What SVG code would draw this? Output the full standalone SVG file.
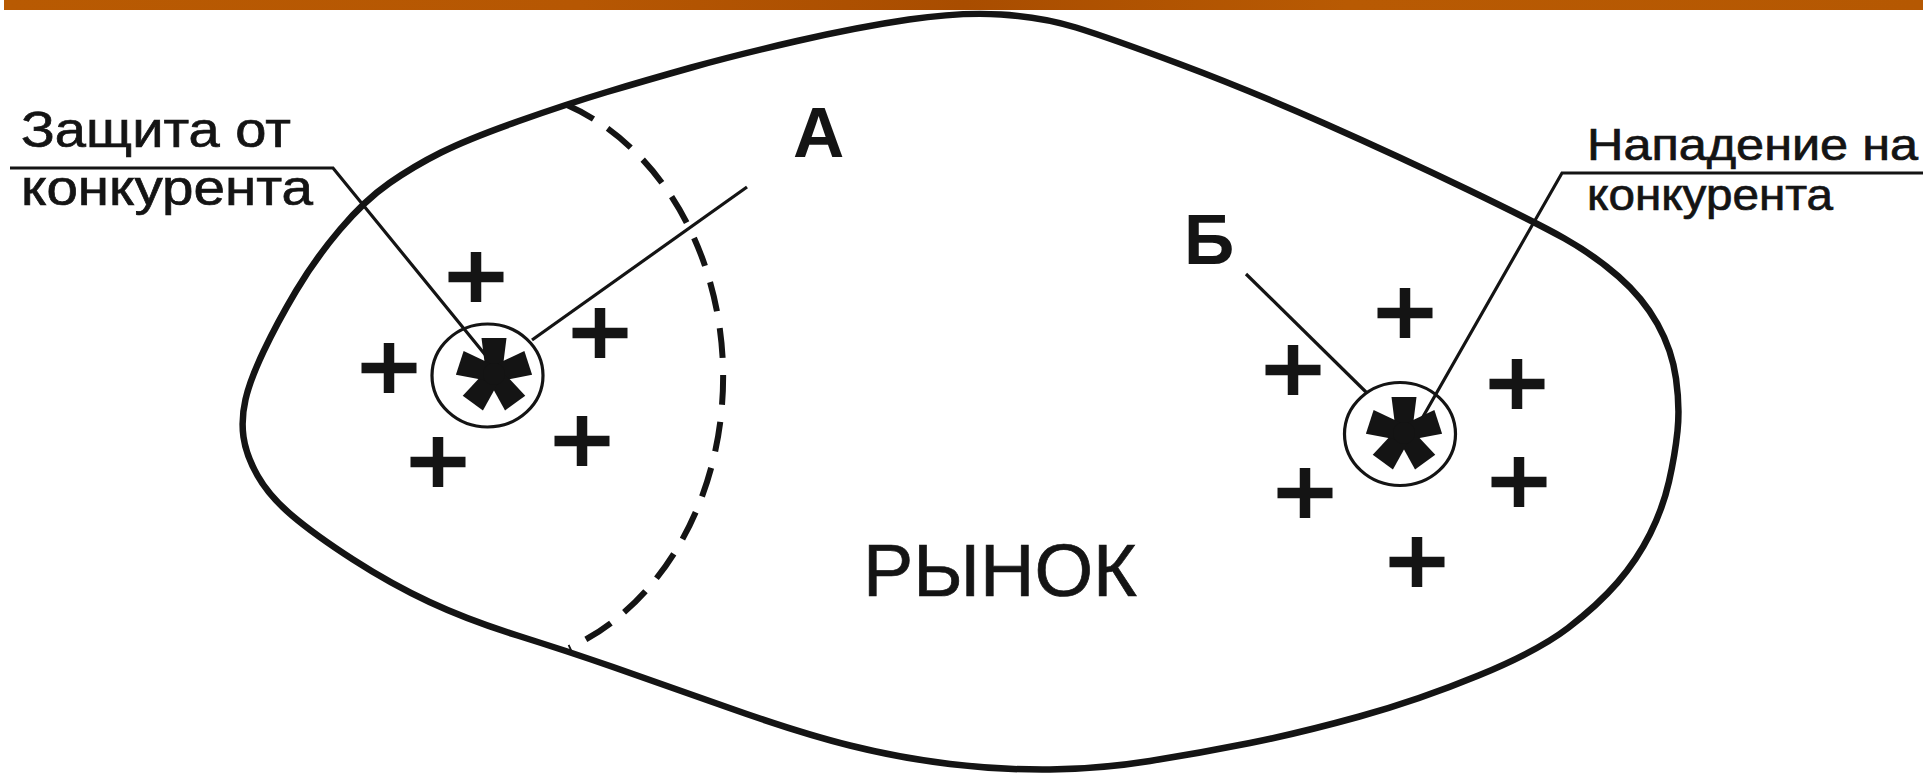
<svg xmlns="http://www.w3.org/2000/svg" xmlns:xlink="http://www.w3.org/1999/xlink" width="1923" height="781" viewBox="0 0 1923 781">
  <style>
    .outline { fill: none; stroke: #141414; stroke-width: 6.5; stroke-linejoin: round; }
    .zone { fill: none; stroke: #141414; stroke-width: 6; stroke-dasharray: 30 17; }
    .ring { fill: none; stroke: #141414; stroke-width: 3.2; }
    .leader { fill: none; stroke: #141414; stroke-width: 3.2; }
    .plus { fill: none; stroke: #141414; stroke-width: 10.5; }
    .ast { fill: #141414; }
    .lbl { font-family: "Liberation Sans", Arial, sans-serif; fill: #141414; stroke: #141414; stroke-width: 0.7; }
    .big { font-family: "Liberation Sans", Arial, sans-serif; font-weight: bold; fill: #141414; }
  </style>
  <defs>
    <linearGradient id="bar" x1="0" y1="0" x2="1" y2="0">
      <stop offset="0" stop-color="#b85a02"/>
      <stop offset="0.3" stop-color="#b65703"/>
      <stop offset="0.5" stop-color="#a94d00"/>
      <stop offset="0.7" stop-color="#b85a03"/>
      <stop offset="1" stop-color="#b55802"/>
    </linearGradient>
    <path id="plus" class="plus" d="M-27.5 0H27.5M0 -25V25"/>
    <g id="ast" class="ast">
      <polygon points="-8,0 8,0 12.5,-36 -12.5,-36"/>
      <polygon points="-8,0 8,0 12.5,-36 -12.5,-36" transform="rotate(72)"/>
      <polygon points="-8,0 8,0 12.5,-36 -12.5,-36" transform="rotate(144)"/>
      <polygon points="-8,0 8,0 12.5,-36 -12.5,-36" transform="rotate(216)"/>
      <polygon points="-8,0 8,0 12.5,-36 -12.5,-36" transform="rotate(288)"/>
      <circle r="11"/>
    </g>
  </defs>

  <rect x="0" y="0" width="1923" height="781" fill="#ffffff"/>
  <rect id="top-bar" x="4" y="0" width="1919" height="10" fill="url(#bar)"/>

  <g id="market">
    <path class="outline" d="M 243.5 437 Q 241 419 245.5 399.5 Q 250 380 263.5 351.5 Q 277 323 296 291 Q 315 259 340 229.5 Q 365 200 389.5 183 Q 414 166 441 152.5 Q 468 139 517.5 121.5 Q 567 104 607 92 Q 647 80 691.5 67.5 Q 736 55 797 41 Q 858 27 909 19.5 Q 960 12 1001 14.5 Q 1042 17 1076 27.5 Q 1110 38 1179.5 64 Q 1249 90 1324.5 123.5 Q 1400 157 1467.5 189.5 Q 1535 222 1564.5 238.5 Q 1594 255 1618.5 276.5 Q 1643 298 1657.5 324 Q 1672 350 1676 378.5 Q 1680 407 1677.5 431 Q 1675 455 1669 481.5 Q 1663 508 1650 534 Q 1637 560 1617.5 582.5 Q 1598 605 1568 628 Q 1538 651 1478.5 675.5 Q 1419 700 1359.5 716.5 Q 1300 733 1250 743 Q 1200 753 1150 761 Q 1100 769 1050 769.5 Q 1000 770 950 764 Q 900 758 850 745.5 Q 800 733 729.5 708 Q 659 683 613 667 Q 567 651 517.5 635.5 Q 468 620 429.5 602 Q 391 584 353 559.5 Q 315 535 292 515.5 Q 269 496 257.5 475.5 Q 246 455 243.5 437 Z"/>
    <text class="lbl" x="863" y="596" font-size="74" textLength="274" lengthAdjust="spacingAndGlyphs">РЫНОК</text>
  </g>

  <g id="zone-A">
    <path class="zone" d="M 567 105 A 236 289 0 0 1 569 648"/>
  </g>

  <g id="connectors">
    <polyline class="leader" points="10,168 333,168 487,357"/>
    <line class="leader" x1="532" y1="340" x2="747" y2="187"/>
    <line class="leader" x1="1246" y1="274" x2="1367" y2="393"/>
    <polyline class="leader" points="1923,173 1562,173 1420,422"/>
  </g>

  <g id="company-A">
    <ellipse class="ring" cx="487.5" cy="375.5" rx="55.5" ry="51.5"/>
    <use xlink:href="#ast" href="#ast" transform="translate(494 374)"/>
    <use xlink:href="#plus" href="#plus" transform="translate(476 277)"/>
    <use xlink:href="#plus" href="#plus" transform="translate(389 368)"/>
    <use xlink:href="#plus" href="#plus" transform="translate(600 333)"/>
    <use xlink:href="#plus" href="#plus" transform="translate(582 441)"/>
    <use xlink:href="#plus" href="#plus" transform="translate(438 462)"/>
  </g>

  <g id="company-B">
    <ellipse class="ring" cx="1400" cy="434" rx="55.5" ry="51.5"/>
    <use xlink:href="#ast" href="#ast" transform="translate(1404 433)"/>
    <use xlink:href="#plus" href="#plus" transform="translate(1405 313)"/>
    <use xlink:href="#plus" href="#plus" transform="translate(1293 370)"/>
    <use xlink:href="#plus" href="#plus" transform="translate(1305 493)"/>
    <use xlink:href="#plus" href="#plus" transform="translate(1517 384)"/>
    <use xlink:href="#plus" href="#plus" transform="translate(1519 482)"/>
    <use xlink:href="#plus" href="#plus" transform="translate(1417 562)"/>
  </g>

  <g id="label-A">
    <text class="big" x="793" y="157" font-size="71">А</text>
  </g>
  <g id="label-B">
    <text class="big" x="1184" y="264" font-size="70">Б</text>
  </g>
  <g id="label-defense">
    <text class="lbl" x="21" y="147" font-size="50" textLength="270" lengthAdjust="spacingAndGlyphs">Защита от</text>
    <text class="lbl" x="21" y="205" font-size="50" textLength="292" lengthAdjust="spacingAndGlyphs">конкурента</text>
  </g>
  <g id="label-attack">
    <text class="lbl" x="1587" y="160" font-size="44" textLength="331" lengthAdjust="spacingAndGlyphs">Нападение на</text>
    <text class="lbl" x="1587" y="210" font-size="44" textLength="246" lengthAdjust="spacingAndGlyphs">конкурента</text>
  </g>
</svg>
